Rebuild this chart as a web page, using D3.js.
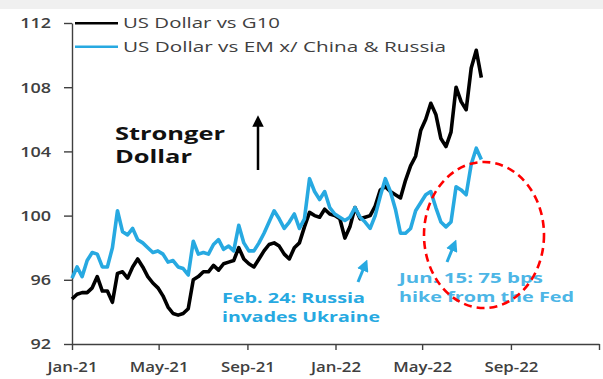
<!DOCTYPE html>
<html>
<head>
<meta charset="utf-8">
<script src="https://cdn.jsdelivr.net/npm/d3@7"></script>
<style>
  html, body { margin: 0; padding: 0; background: #fff; }
  svg { display: block; }
  text { font-family: "Open Sans", "Liberation Sans", sans-serif; }
</style>
</head>
<body>
<svg id="chart" width="603" height="379"></svg>
<script>
// ---------- DATA ----------
const startDate = "2021-01-01";           // weekly observations start
const seriesNames = ["US Dollar vs G10", "US Dollar vs EM x/ China & Russia"];
const g10Values = [
  94.8, 95.1, 95.2, 95.2, 95.5, 96.2, 95.3, 95.3, 94.6, 96.4,
  96.5, 96.1, 96.8, 97.3, 96.8, 96.2, 95.8, 95.5, 95.0, 94.3,
  93.9, 93.8, 93.9, 94.2, 96.0, 96.2, 96.5, 96.5, 96.9, 96.6,
  97.0, 97.1, 97.2, 98.0, 97.3, 97.0, 96.8, 97.3, 97.8, 98.2,
  98.3, 98.1, 97.6, 97.3, 98.0, 98.3, 99.3, 100.2, 100.0, 99.9,
  100.4, 100.1, 100.0, 99.8, 98.6, 99.3, 100.5, 99.8, 99.9, 100.0,
  100.6, 101.6, 101.8, 101.5, 101.3, 101.1, 102.2, 103.1, 103.7, 105.3,
  106.0, 107.0, 106.3, 104.8, 104.3, 105.2, 108.0, 107.1, 106.6, 109.2,
  110.3, 108.6
];
const emValues = [
  96.1, 96.8, 96.2, 97.2, 97.7, 97.6, 96.8, 96.8, 98.0, 100.3,
  99.0, 98.8, 99.2, 98.5, 98.3, 98.0, 97.7, 97.8, 97.6, 97.1,
  97.2, 96.8, 96.7, 96.3, 98.4, 97.6, 97.7, 97.6, 98.2, 98.5,
  97.9, 98.1, 97.8, 99.4, 98.3, 97.8, 97.8, 98.3, 98.9, 99.6,
  100.3, 99.8, 99.2, 99.6, 100.1, 99.2, 99.8, 102.3, 101.5, 101.0,
  101.5, 100.5, 100.1, 99.9, 99.7, 99.9, 100.5, 99.9, 99.6, 99.2,
  100.0, 101.2, 102.3, 101.5, 100.4, 98.9, 98.9, 99.2, 100.3, 100.8,
  101.3, 101.5, 100.5, 99.6, 99.3, 99.6, 101.8, 101.6, 101.3, 103.2,
  104.2, 103.5
];
const yTicks = [92, 96, 100, 104, 108, 112];
const xTickDates = ["2021-01-01", "2021-05-01", "2021-09-01", "2022-01-01", "2022-05-01", "2022-09-01", "2023-01-01"];
const xTickLabels = ["Jan-21", "May-21", "Sep-21", "Jan-22", "May-22", "Sep-22", ""];
const xDomain = ["2021-01-01", "2023-01-01"];
const annotationFeb = ["Feb. 24: Russia", "invades Ukraine"];
const annotationJun = ["Jun. 15: 75 bps", "hike from the Fed"];
const strongerText = ["Stronger", "Dollar"];

// ---------- SETUP ----------
const parse = d3.timeParse("%Y-%m-%d");
const t0 = parse(startDate);
const dates = g10Values.map((_, i) => d3.timeDay.offset(t0, 7 * i));
const g10 = g10Values.map((v, i) => ({ date: dates[i], value: v }));
const em = emValues.map((v, i) => ({ date: dates[i], value: v }));

const svg = d3.select("#chart");
const BLUE = "#27a9e1";
const AXIS = "#404040";

svg.append("rect").attr("x", 0).attr("y", 0).attr("width", 603).attr("height", 9).attr("fill", "#f0f0f0");

const x = d3.scaleTime().domain(xDomain.map(parse)).range([72, 599]);
const y = d3.scaleLinear().domain([92, 112]).range([344, 23]);

function stretch(sel, k) {
  sel.each(function () {
    const w = this.getComputedTextLength();
    if (w > 0) d3.select(this).attr("textLength", w * k).attr("lengthAdjust", "spacingAndGlyphs");
  });
}

// ---------- AXES ----------
const yAxis = svg.append("g").attr("transform", "translate(72,0)")
  .call(d3.axisLeft(y).tickValues(yTicks).tickSize(8).tickSizeOuter(0).tickPadding(13));
yAxis.select(".domain").attr("stroke", AXIS).attr("stroke-width", 1.4);
yAxis.selectAll(".tick line").attr("stroke", AXIS).attr("stroke-width", 1.4);
yAxis.selectAll(".tick text").attr("fill", AXIS).attr("font-size", 15).attr("font-weight", 600)
  .attr("font-family", "'Open Sans', sans-serif").call(stretch, 1.2);

const xAxis = svg.append("g").attr("transform", "translate(0,344)")
  .call(d3.axisBottom(x).tickValues(xTickDates.map(parse))
    .tickFormat((d, i) => xTickLabels[i]).tickSize(6).tickSizeOuter(0).tickPadding(11));
xAxis.select(".domain").attr("stroke", AXIS).attr("stroke-width", 1.4);
xAxis.selectAll(".tick line").attr("stroke", AXIS).attr("stroke-width", 1.4);
xAxis.selectAll(".tick text").attr("fill", AXIS).attr("font-size", 15).attr("font-weight", 600)
  .attr("font-family", "'Open Sans', sans-serif").call(stretch, 1.12);

// ---------- LINES ----------
const line = d3.line().x(d => x(d.date)).y(d => y(d.value)).curve(d3.curveLinear);
svg.append("path").datum(g10).attr("d", line).attr("fill", "none")
  .attr("stroke", "#000").attr("stroke-width", 3.6).attr("stroke-linejoin", "round");
svg.append("path").datum(em).attr("d", line).attr("fill", "none")
  .attr("stroke", BLUE).attr("stroke-width", 3.6).attr("stroke-linejoin", "round");

// ---------- LEGEND ----------
const legendColors = ["#000", BLUE];
const legendWidths = [157, 323];
seriesNames.forEach((name, i) => {
  const ly = 23.3 + i * 23.4;
  svg.append("line").attr("x1", 75).attr("x2", 118).attr("y1", ly).attr("y2", ly)
    .attr("stroke", legendColors[i]).attr("stroke-width", 2.4);
  svg.append("text").attr("x", 123).attr("y", ly + 5).text(name)
    .attr("fill", AXIS).attr("font-size", 14)
    .attr("textLength", legendWidths[i]).attr("lengthAdjust", "spacingAndGlyphs");
});

// ---------- STRONGER DOLLAR ----------
const sw = [110, 77];
strongerText.forEach((t, i) => {
  svg.append("text").attr("x", 115).attr("y", 140 + i * 23).text(t)
    .attr("font-size", 18).attr("font-weight", 700).attr("fill", "#111")
    .attr("textLength", sw[i]).attr("lengthAdjust", "spacingAndGlyphs");
});

const defs = svg.append("defs");
function marker(id, color, size) {
  defs.append("marker").attr("id", id).attr("viewBox", "0 0 10 10").attr("refX", 5).attr("refY", 5)
    .attr("markerWidth", size).attr("markerHeight", size).attr("orient", "auto")
    .append("path").attr("d", "M0,0 L10,5 L0,10 z").attr("fill", color);
}
marker("ahBlack", "#000", 4.6);
marker("ahBlue", BLUE, 4);

svg.append("line").attr("x1", 258).attr("y1", 170).attr("x2", 258).attr("y2", 121)
  .attr("stroke", "#000").attr("stroke-width", 2.5).attr("marker-end", "url(#ahBlack)");

// ---------- ANNOTATIONS ----------
svg.append("line").attr("x1", 358).attr("y1", 282).attr("x2", 365).attr("y2", 265)
  .attr("stroke", BLUE).attr("stroke-width", 3).attr("marker-end", "url(#ahBlue)");
svg.append("line").attr("x1", 447).attr("y1", 262).attr("x2", 454).attr("y2", 245)
  .attr("stroke", BLUE).attr("stroke-width", 3).attr("marker-end", "url(#ahBlue)");

const febW = [143, 158];
annotationFeb.forEach((t, i) => {
  svg.append("text").attr("x", 222).attr("y", 303 + i * 19).text(t)
    .attr("font-size", 13.5).attr("font-weight", 700).attr("fill", BLUE)
    .attr("textLength", febW[i]).attr("lengthAdjust", "spacingAndGlyphs");
});
const junW = [144, 175];
annotationJun.forEach((t, i) => {
  svg.append("text").attr("x", 399).attr("y", 283 + i * 19).text(t)
    .attr("font-size", 13.5).attr("font-weight", 700).attr("fill", "#4db6e6")
    .attr("textLength", junW[i]).attr("lengthAdjust", "spacingAndGlyphs");
});

svg.append("ellipse").attr("cx", 484).attr("cy", 235).attr("rx", 60).attr("ry", 73)
  .attr("fill", "none").attr("stroke", "#ff0000").attr("stroke-width", 2.6)
  .attr("stroke-dasharray", "8,5");
</script>
</body>
</html>
